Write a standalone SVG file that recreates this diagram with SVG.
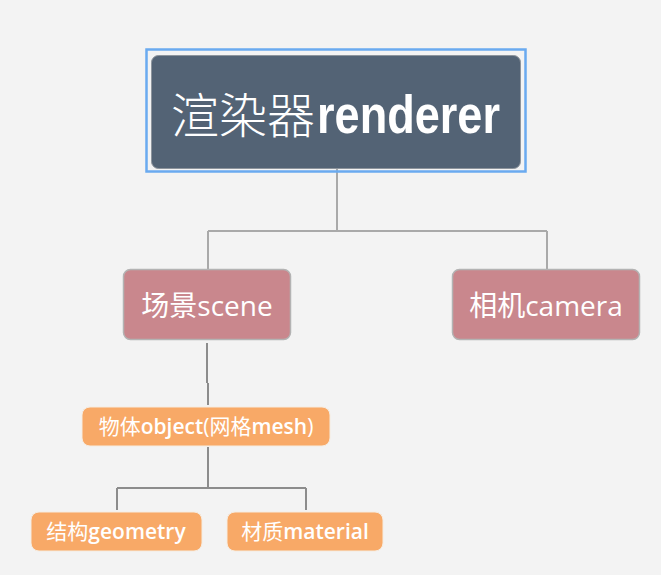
<svg xmlns="http://www.w3.org/2000/svg" width="661" height="575" viewBox="0 0 661 575">
<style>
.conn{fill:none;stroke:#a9a9a9;stroke-width:2}
.conn2{fill:none;stroke:#8c8c8c;stroke-width:2}
.t{fill:#ffffff;font-family:"Open Sans","Noto Sans","Noto Sans CJK SC",sans-serif;text-anchor:middle}
.s{font-size:21px}
.b{font-weight:600}
.pink{fill:#c9878d;stroke:#b3b3b3;stroke-width:1.5}
.orange{fill:#f8a967;stroke:#f6ece0;stroke-width:1}
</style>
<rect width="661" height="575" fill="#f3f3f3"/>
<g id="connectors">
<path class="conn" d="M337 168V231M208 231H547M208 231V269M547 231V269"/>
<path class="conn2" d="M207 343V383M208 383V405"/>
<path class="conn2" d="M208 447V488M117 488H306M117 488V510M306 488V510"/>
</g>
<g id="root">
<rect x="146.5" y="49.5" width="379" height="122" fill="none" stroke="#6aaaf0" stroke-width="2.5"/>
<rect x="151.5" y="55.5" width="369" height="113" rx="7" fill="#536375" stroke="#8d949c" stroke-width="1"/>
<text x="171" y="133" fill="#ffffff"><tspan font-family="Noto Sans CJK SC,sans-serif" font-size="48" font-weight="300">渲染器</tspan><tspan x="317" font-family="Liberation Sans Narrow,Liberation Sans,sans-serif" font-weight="bold" font-size="53" textLength="183" lengthAdjust="spacingAndGlyphs">renderer</tspan></text>
</g>
<g id="scene">
<rect class="pink" x="123.5" y="269.5" width="167" height="70" rx="7"/>
<text x="207" y="316" class="t" font-size="28">场景scene</text>
</g>
<g id="camera">
<rect class="pink" x="452.5" y="269.5" width="187" height="70" rx="7"/>
<text x="546" y="316" class="t" font-size="28">相机camera</text>
</g>
<g id="object">
<rect class="orange" x="82" y="407" width="248" height="39" rx="8"/>
<text x="206" y="434" class="t s">物体<tspan class="b">object</tspan>(网格<tspan class="b">mesh</tspan>)</text>
</g>
<g id="geometry">
<rect class="orange" x="31" y="512" width="171" height="39" rx="8"/>
<text x="116" y="539" class="t s">结构<tspan class="b">geometry</tspan></text>
</g>
<g id="material">
<rect class="orange" x="227" y="512" width="156" height="39" rx="8"/>
<text x="305" y="539" class="t s">材质<tspan class="b">material</tspan></text>
</g>
</svg>
